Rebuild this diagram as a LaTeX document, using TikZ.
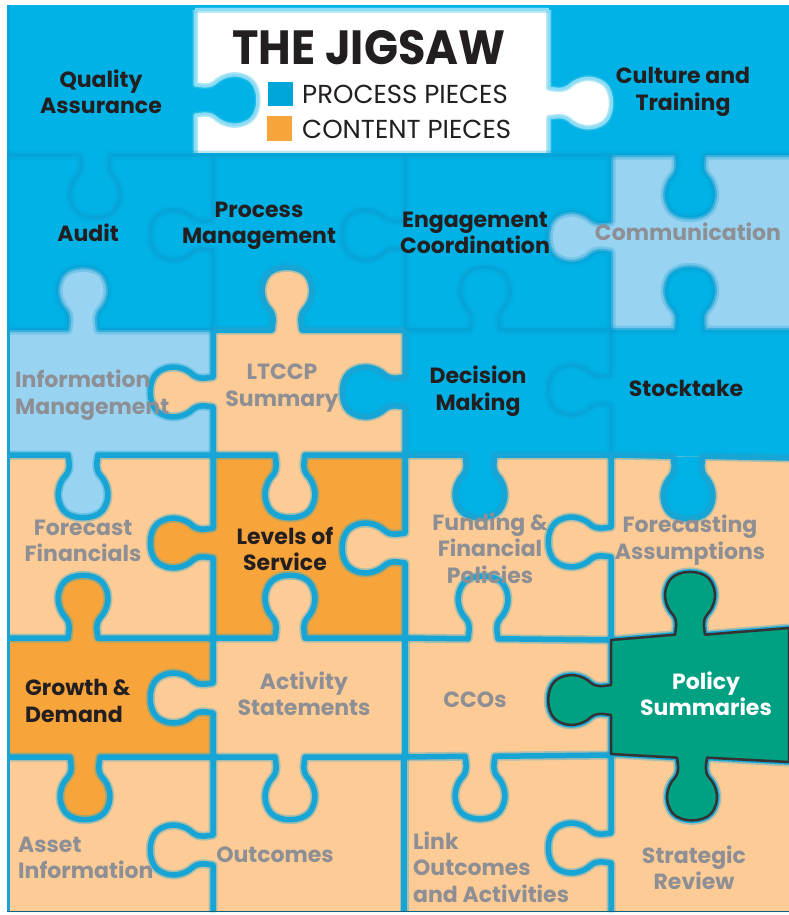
\documentclass[tikz,border=0pt]{standalone}
\usepackage{fontspec}
\setmainfont{Poppins}
\usepackage{graphicx}
\definecolor{pblue}{HTML}{00B2E6}
\definecolor{lblue}{HTML}{98D3F1}
\definecolor{peach}{HTML}{FCCB96}
\definecolor{orng}{HTML}{F7A43B}
\definecolor{pteal}{HTML}{00A083}
\definecolor{gut}{HTML}{16A5D4}
\definecolor{gutsoftc}{HTML}{0A9FD3}
\definecolor{darktxt}{HTML}{231F20}
\definecolor{greytxt}{HTML}{8E8F94}
\definecolor{legblue}{HTML}{00A6D8}
\newif\iffillpass
\def\hknob#1#2#3#4{%
 .. controls ({#1+(#4)*(-14)},{#2+(#3)*8}) and ({#1+(#4)*(-12)},{#2+(#3)*13}) .. ({#1+(#4)*(-17)},{#2+(#3)*20})
 .. controls ({#1+(#4)*(-25)},{#2+(#3)*28}) and ({#1+(#4)*(-29)},{#2+(#3)*44}) .. ({#1+(#4)*(-19)},{#2+(#3)*56})
 .. controls ({#1+(#4)*(-11)},{#2+(#3)*65}) and ({#1+(#4)*(11)},{#2+(#3)*65}) .. ({#1+(#4)*(19)},{#2+(#3)*56})
 .. controls ({#1+(#4)*(29)},{#2+(#3)*44}) and ({#1+(#4)*(25)},{#2+(#3)*28}) .. ({#1+(#4)*(17)},{#2+(#3)*20})
 .. controls ({#1+(#4)*(12)},{#2+(#3)*13}) and ({#1+(#4)*(14)},{#2+(#3)*8}) .. ({#1+(#4)*(15)},{#2})}
\def\vknob#1#2#3#4{%
 .. controls ({#1+(#3)*8},{#2+(#4)*(-14)}) and ({#1+(#3)*13},{#2+(#4)*(-12)}) .. ({#1+(#3)*20},{#2+(#4)*(-17)})
 .. controls ({#1+(#3)*28},{#2+(#4)*(-25)}) and ({#1+(#3)*44},{#2+(#4)*(-29)}) .. ({#1+(#3)*56},{#2+(#4)*(-19)})
 .. controls ({#1+(#3)*65},{#2+(#4)*(-11)}) and ({#1+(#3)*65},{#2+(#4)*(11)}) .. ({#1+(#3)*56},{#2+(#4)*(19)})
 .. controls ({#1+(#3)*44},{#2+(#4)*(29)}) and ({#1+(#3)*28},{#2+(#4)*(25)}) .. ({#1+(#3)*20},{#2+(#4)*(17)})
 .. controls ({#1+(#3)*13},{#2+(#4)*(12)}) and ({#1+(#3)*8},{#2+(#4)*(14)}) .. ({#1},{#2+(#4)*(15)})}
% horizontal edge: x1 y1 x2 y2 xc side fill
\newcommand\hE[7]{%
  \pgfmathsetmacro\kc{#2+(#4-#2)*(#5-#1)/(#3-#1)}%
  \iffillpass
    \path[fill=#7] ({#5-15},\kc) \hknob{#5}{\kc}{#6}{1} -- cycle;
  \else
    \draw[curgut] (#1,#2) -- ({#5-15},\kc) \hknob{#5}{\kc}{#6}{1} -- (#3,#4);
  \fi}
% vertical edge: x1 y1 x2 y2 yc side fill
\newcommand\vE[7]{%
  \pgfmathsetmacro\kc{#1+(#3-#1)*(#5-#2)/(#4-#2)}%
  \iffillpass
    \path[fill=#7] (\kc,{#5-15}) \vknob{\kc}{#5}{#6}{1} -- cycle;
  \else
    \draw[curgut] (#1,#2) -- (\kc,{#5-15}) \vknob{\kc}{#5}{#6}{1} -- (#3,#4);
  \fi}
\newcommand\sE[4]{\iffillpass\else\draw[curgut] (#1,#2) -- (#3,#4);\fi}
\newcommand\softedges{\tikzset{curgut/.style=gutsoft}}
\newcommand\hardedges{\tikzset{curgut/.style=gutline}}
\newcommand\titleedges{\tikzset{curgut/.style=titleedge}}
\newcommand\alledges{%
  \titleedges
  \vE{195}{10}{195}{153}{100}{1}{pblue}
  \vE{549}{10}{549}{153}{103}{1}{white}
  \softedges
  \hE{7}{155}{405}{155}{95}{1}{none}
  \hE{405}{155}{789}{155}{690}{1}{pblue}
  \vE{213}{155}{213}{330}{235}{-1}{none}
  \vE{405}{155}{405}{330}{235}{-1}{none}
  \vE{611}{155}{611}{330}{237}{-1}{lblue}
  \hE{7}{330}{213}{330}{83}{-1}{lblue}
  \hE{405}{330}{611}{330}{485}{-1}{none}
  \hE{611}{330}{789}{330}{690}{-1}{pblue}
  \vE{611}{330}{611}{455}{390}{-1}{none}
  \hardedges
  \hE{213}{330}{405}{330}{287}{-1}{peach}
  \vE{213}{330}{213}{455}{392}{-1}{peach}
  \vE{405}{330}{405}{455}{392}{-1}{pblue}
  \hE{7}{455}{213}{455}{83}{1}{lblue}
  \hE{213}{455}{405}{455}{290}{1}{peach}
  \hE{405}{455}{611}{455}{480}{1}{pblue}
  \hE{611}{455}{789}{458}{688}{1}{pblue}
  \vE{213}{455}{213}{638}{543}{-1}{orng}
  \vE{405}{455}{405}{638}{548}{-1}{peach}
  \vE{611}{455}{611}{640}{542}{-1}{none}
  \hE{7}{638}{213}{638}{83}{-1}{orng}
  \hE{213}{638}{405}{638}{290}{-1}{peach}
  \hE{405}{638}{611}{640}{483}{-1}{peach}
  \hE{611}{640}{789}{628}{690}{-1}{pteal}
  \vE{213}{638}{213}{757}{698}{-1}{peach}
  \sE{405}{638}{405}{757}
  \vE{611}{640}{611}{754}{700}{-1}{pteal}
  \hE{7}{757}{213}{757}{85}{1}{orng}
  \hE{213}{757}{405}{757}{290}{1}{none}
  \hE{405}{757}{611}{755}{480}{1}{none}
  \hE{611}{754}{789}{762}{692}{1}{pteal}
  \vE{213}{757}{213}{912}{850}{-1}{none}
  \sE{404}{757}{404}{912}
  \vE{611}{757}{611}{912}{848}{-1}{none}
}
\tikzset{
  gutline/.style={draw=gut, line width=5.5pt, line join=round,
    preaction={draw=gut, line width=9pt, draw opacity=0.35, line join=round}},
  gutsoft/.style={draw=gutsoftc, line width=4pt, line join=round, draw opacity=0.55,
    preaction={draw=gutsoftc, line width=9pt, draw opacity=0.25, line join=round}},
  titleedge/.style={draw=pblue!45!white, line width=3pt, line join=round,
    preaction={draw=pblue!70!white, line width=6pt, draw opacity=0.4, line join=round}},
  curgut/.style=gutline,
  lbl/.style={font=\fontsize{22}{26.5}\selectfont\bfseries, align=center, inner sep=0pt, text=darktxt},
  glbl/.style={lbl, text=greytxt},
}
\begin{document}
\begin{tikzpicture}[x=1pt,y=-1pt]
\useasboundingbox (0,0) rectangle (789,915);
\fill[white] (0,0) rectangle (789,915);
\fill[pblue] (7,5) rectangle (789,912);
\fill[lblue] (7,330) rectangle (213,455);
\fill[lblue] (611,155) rectangle (789,330);
\fill[peach] (213,330) rectangle (405,455);
\fill[peach] (7,455) -- (611,455) -- (789,458) -- (789,912) -- (7,912) -- cycle;
\fill[orng] (213,455) rectangle (405,638);
\fill[orng] (7,638) rectangle (213,757);
\fill[pteal] (611,640) -- (789,628) -- (789,762) -- (611,754) -- cycle;
\fill[white] (195,10) rectangle (549,153);
\fillpasstrue\alledges
\fillpassfalse\alledges
\draw[titleedge] (549,10) -- (195,10);
\draw[gut, line width=3pt] (8.5,330) -- (8.5,912);
\draw[gutsoftc, line width=3pt, draw opacity=0.5] (8.5,5) -- (8.5,330);
\draw[gut!60!black, line width=1.5pt] (7,911.5) -- (789,911.5);
% policy piece border
\pgfmathsetmacro\kcA{640+(628-640)*(690-611)/(789-611)}
\pgfmathsetmacro\kcB{754+(762-754)*(692-611)/(789-611)}
\path[fill=pteal, draw=black!80, line width=2.5pt, line join=round]
  (611,640) -- ({690-15},\kcA) \hknob{690}{\kcA}{-1}{1} -- (789,628) -- (789,762)
  -- ({692+15},\kcB) \hknob{692}{\kcB}{1}{-1} -- (611,754)
  -- (611,{700+15}) \vknob{611}{700}{-1}{-1} -- cycle;
% legend
\fill[legblue] (268,82) rectangle (293,106);
\fill[orng] (267,116) rectangle (292,141);
\node[inner sep=0pt, text=darktxt] (title) at (369,48) {\scalebox{0.93}[1]{\fontsize{48}{48}\selectfont\bfseries THE JIGSAW}};
\node[anchor=west, inner sep=0pt, text=darktxt] (lp) at (302,94) {\fontsize{26}{26}\selectfont PROCESS PIECES};
\node[anchor=west, inner sep=0pt, text=darktxt] (lc) at (302,129) {\fontsize{26}{26}\selectfont CONTENT PIECES};
% labels
\node[lbl] (qa) at (101,92) {Quality\\Assurance};
\node[lbl] (ct) at (683,92) {Culture and\\Training};
\node[lbl] (audit) at (88,233) {Audit};
\node[lbl] (pm) at (259,226) {Process\\Management};
\node[lbl] (ec) at (475,233) {Engagement\\Coordination};
\node[glbl] (comm) at (688,232) {Communication};
\node[glbl, align=left, anchor=west] (im) at (15,395) {Information\\Management};
\node[glbl] (ltccp) at (282,388) {LTCCP\\Summary};
\node[lbl] (dm) at (478,391) {Decision\\Making};
\node[lbl] (st) at (686,388) {Stocktake};
\node[glbl] (ff) at (83,541) {Forecast\\Financials};
\node[lbl] (los) at (285,549) {Levels of\\Service};
\node[glbl] (fund) at (490,548) {Funding \&\\Financial\\Policies};
\node[glbl] (fa) at (690,540) {Forecasting\\Assumptions};
\node[lbl, align=left, anchor=west] (gd) at (25,701) {Growth \&\\Demand};
\node[glbl] (as) at (304,694) {Activity\\Statements};
\node[glbl] (cco) at (475,700) {CCOs};
\node[lbl, text=white] (ps) at (706,694) {Policy\\Summaries};
\node[glbl, align=left, anchor=west] (ai) at (18,858) {Asset\\Information};
\node[glbl] (out) at (275,855) {Outcomes};
\node[glbl, align=left, anchor=west] (lo) at (413,867) {Link\\Outcomes\\and Activities};
\node[glbl] (sr) at (694,868) {Strategic\\Review};
\end{tikzpicture}
\end{document}
